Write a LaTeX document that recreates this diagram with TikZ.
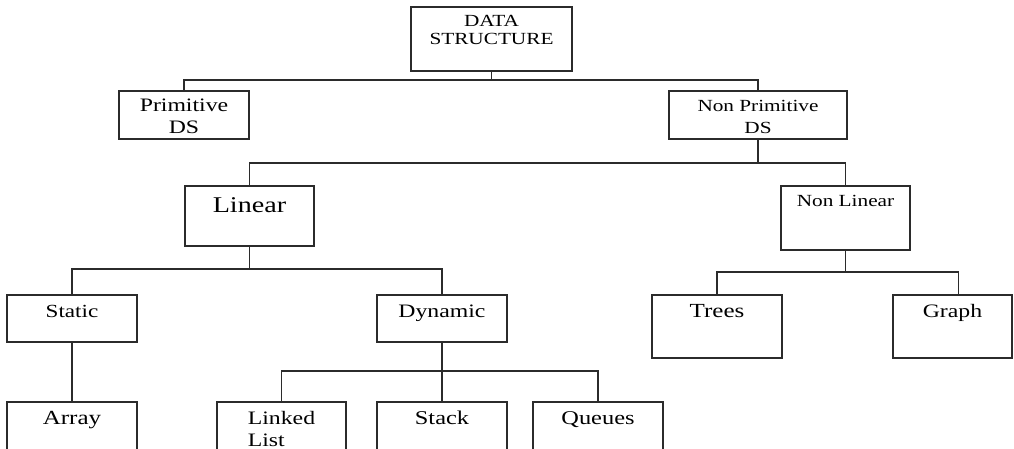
\documentclass[tikz,border=0pt]{standalone}
\usepackage{fontspec}
\setmainfont{Liberation Serif}[FakeStretch=1.25]
\definecolor{ink}{HTML}{2B2B2B}
% two centred lines, baseline on the first line
\newcommand\twoc[3]{\vtop{\baselineskip=#1\relax\halign{\hfil##\hfil\cr#2\cr#3\cr}}}
% two left-aligned lines, baseline on the first line
\newcommand\twol[3]{\vtop{\baselineskip=#1\relax\halign{##\hfil\cr#2\cr#3\cr}}}
\newcommand\fs[1]{\fontsize{#1}{#1}\selectfont}
\tikzset{
  box/.style={draw=ink, line width=1.5pt, inner sep=0pt, outer sep=0pt,
    anchor=north west, text=black},
  link/.style={draw=ink, line width=1.5pt},
}
\begin{document}
\begin{tikzpicture}[x=1pt, y=-1pt]
\clip (0,0) rectangle (1014,449);
\fill[white] (0,0) rectangle (1014,449);

% level 0
\node[box, minimum width=161pt, text height=20pt, text depth=44pt, font=\fs{17}]
  (ds) at (411,7) {\twoc{18pt}{DATA}{STRUCTURE}};

% level 1
\node[box, minimum width=130pt, text height=21pt, text depth=27pt, font=\fs{19}]
  (prim) at (119,91) {\twoc{22pt}{Primitive}{DS}};
\node[box, minimum width=178pt, text height=21pt, text depth=27pt, font=\fs{17}]
  (nonprim) at (669,91) {\twoc{22pt}{Non Primitive}{DS}};

% level 2
\node[box, minimum width=129pt, text height=26pt, text depth=34pt, font=\fs{22.5}]
  (lin) at (185,186) {Linear};
\node[box, minimum width=129pt, text height=21pt, text depth=43pt, font=\fs{17}]
  (nonlin) at (781,186) {Non Linear};

% level 3
\node[box, minimum width=130pt, text height=22pt, text depth=25pt, font=\fs{18.5}]
  (stat) at (7,295) {Static};
\node[box, minimum width=130pt, text height=22pt, text depth=25pt, font=\fs{19}]
  (dyn) at (377,295) {Dynamic};
\node[box, minimum width=130pt, text height=22pt, text depth=41pt, font=\fs{20}]
  (trees) at (652,295) {Trees};
\node[box, minimum width=119pt, text height=22pt, text depth=41pt, font=\fs{19}]
  (graph) at (893,295) {Graph};

% level 4
\node[box, minimum width=130pt, text height=22pt, text depth=60pt, font=\fs{20}]
  (array) at (7,402) {Array};
\node[box, minimum width=129pt, text height=22pt, text depth=60pt, font=\fs{19}]
  (ll) at (217,402) {\twol{22pt}{Linked}{List}};
\node[box, minimum width=130pt, text height=22pt, text depth=60pt, font=\fs{19.5}]
  (stack) at (377,402) {Stack};
\node[box, minimum width=130pt, text height=22pt, text depth=60pt, font=\fs{19.5}]
  (queues) at (533,402) {Queues};

% connectors
\draw[link] (ds.south) -- ++(0,9) coordinate (j0);
\draw[link] (j0) -| (prim.north);
\draw[link] (j0) -| (nonprim.north);

\draw[link] (nonprim.south) -- ++(0,24) coordinate (j1);
\draw[link] (j1) -| (lin.north);
\draw[link] (j1) -| (nonlin.north);

\draw[link] (lin.south) -- ++(0,23) coordinate (j2);
\draw[link] (j2) -| (stat.north);
\draw[link] (j2) -| (dyn.north);

\draw[link] (stat.south) -- (array.north);

\draw[link] (dyn.south) -- ++(0,29) coordinate (j3);
\draw[link] (j3) -| (ll.north);
\draw[link] (j3) -| (stack.north);
\draw[link] (j3) -| (queues.north);

\draw[link] (nonlin.south) -- ++(0,22) coordinate (j4);
\draw[link] (j4) -| (trees.north);
\draw[link] (j4) -| ([xshift=6pt]graph.north);
\end{tikzpicture}
\end{document}
